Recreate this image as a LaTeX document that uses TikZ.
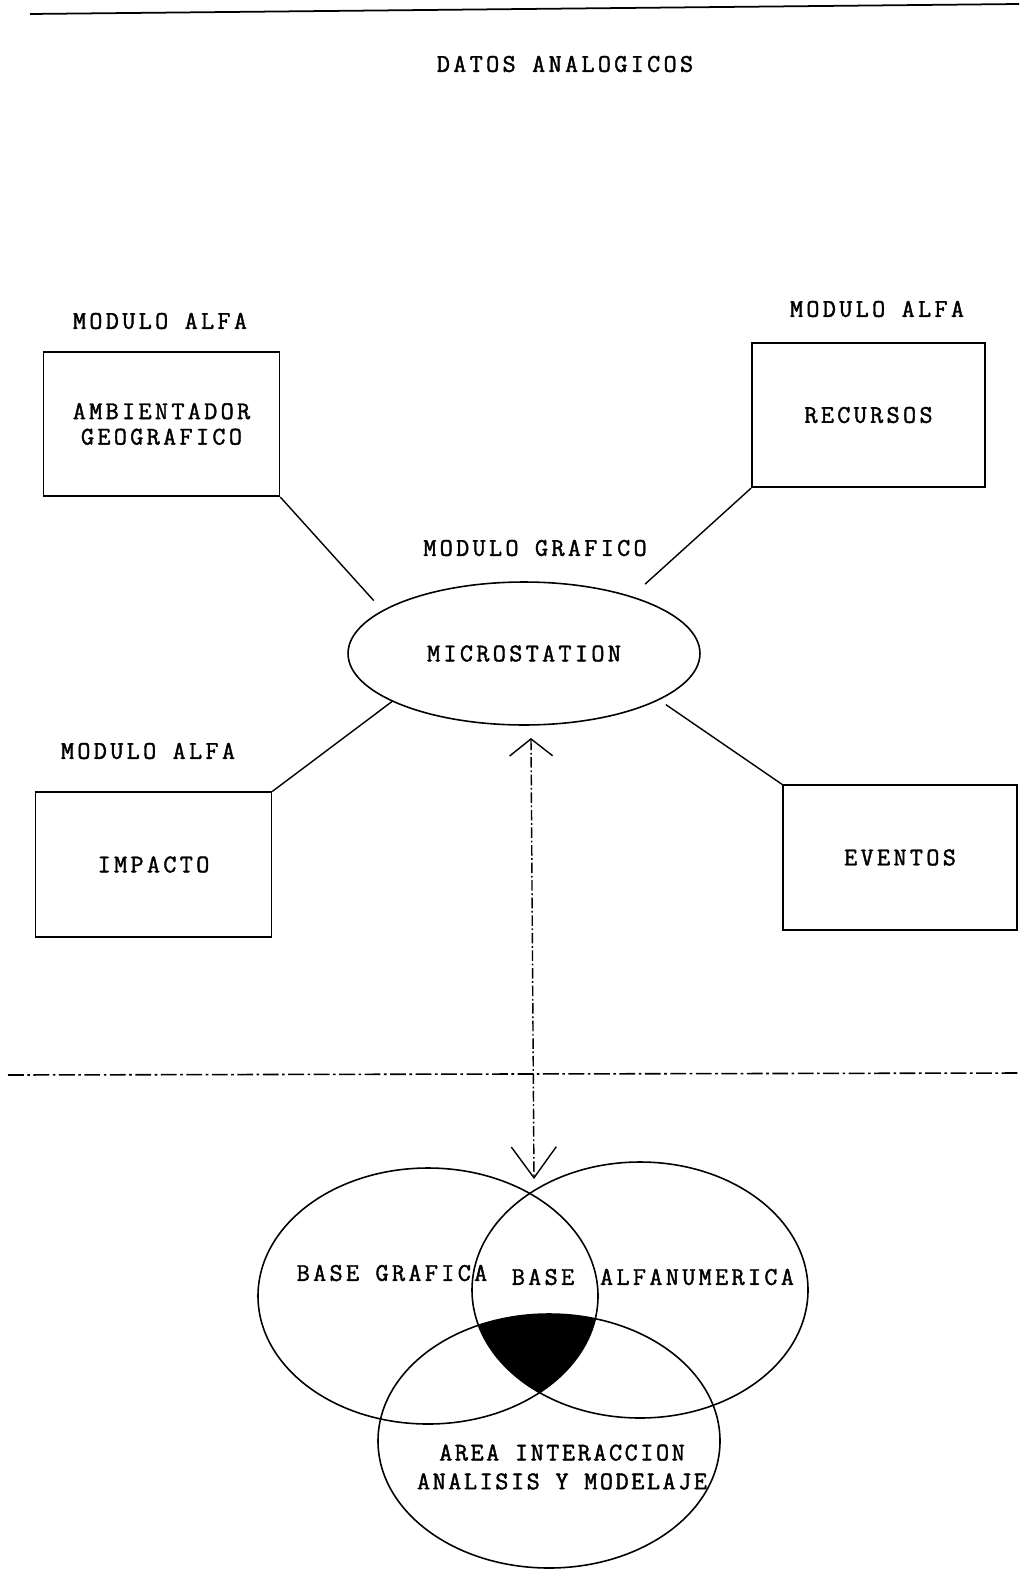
\documentclass[tikz,border=0pt]{standalone}
\usepackage{fontspec}
\newfontfamily\scanfont[LetterSpace=13,FakeBold=1.6]{Latin Modern Mono}
\newfontfamily\scannarrow[LetterSpace=10,FakeBold=1.6]{Latin Modern Mono}
\usetikzlibrary{shapes.geometric,arrows.meta}

\begin{document}
\begin{tikzpicture}[
    x=0.02cm, y=-0.02cm,
    every node/.style={font=\scanfont\fontsize{14.5}{14.5}\selectfont, inner sep=0pt},
    box/.style={
        rectangle, draw, line width=0.9pt,
        minimum width=4.72cm, minimum height=2.89cm, align=center
    },
    hubnode/.style={
        ellipse, draw, line width=0.9pt,
        minimum width=7.04cm, minimum height=2.86cm
    },
    lnk/.style={line width=0.8pt},
    sepline/.style={line width=0.9pt, dash pattern=on 9pt off 2pt on 1.5pt off 2pt},
    dataflow/.style={
        line width=0.8pt, dash pattern=on 6pt off 1.5pt on 1pt off 1.5pt,
        {Straight Barb[length=3.4mm,width=8.6mm]}-{Straight Barb[length=6.2mm,width=9mm]}
    },
    venn/.style={line width=0.9pt}
]
    \useasboundingbox (0,0) rectangle (1019,1571);

    \coordinate (tl) at (30,14);
    \coordinate (tr) at (1019,4);
    \draw[line width=1pt] (tl) -- (tr);
    \node (datos) at (565,64) {DATOS ANALOGICOS};

    \node (alfa1) at (160,321) {MODULO ALFA};
    \node[box] (amb) at (161.5,424) {AMBIENTADOR\\GEOGRAFICO};

    \node (alfa2) at (877,309) {MODULO ALFA};
    \node[box, minimum width=4.66cm] (rec) at (868.5,415) {RECURSOS};

    \node (grafico) at (535,548) {MODULO GRAFICO};
    \node[hubnode] (hub) at (524,653.5) {MICROSTATION};

    \node (alfa3) at (148,751) {MODULO ALFA};
    \node[box] (imp) at (153.5,864.5) {IMPACTO};

    \node[box, minimum width=4.68cm] (eve) at (900,857.5) {EVENTOS};

    \draw[lnk, shorten >=0.26cm] (amb.south east) -- (hub.163);
    \draw[lnk, shorten >=0.36cm] (rec.south west) -- (hub.28);
    \draw[lnk] (hub.200) -- (imp.north east);
    \draw[lnk, shorten <=0.16cm] (hub.341) -- (eve.north west);

    \coordinate (ml) at (8,1075);
    \coordinate (mr) at (1019,1073);
    \draw[sepline] (ml) -- (mr);

    \coordinate (up) at (531,738);
    \coordinate (down) at (534,1179);
    \draw[dataflow] (up) -- (down);

    \begin{scope}
        \clip (428,1296) ellipse [x radius=170, y radius=128];
        \clip (640,1290) ellipse [x radius=168, y radius=128];
        \fill (549,1441) ellipse [x radius=171, y radius=127];
    \end{scope}
    \draw[venn] (428,1296) ellipse [x radius=170, y radius=128];
    \draw[venn] (640,1290) ellipse [x radius=168, y radius=128];
    \draw[venn] (549,1441) ellipse [x radius=171, y radius=127];

    \node (grafica) at (392,1273) {BASE GRAFICA};
    \node (base) at (543,1277) {BASE};
    \node (alfanum) at (697,1277) {ALFANUMERICA};
    \node[align=center, font=\scannarrow\fontsize{14.5}{16.4}\selectfont] (area) at (562,1467) {AREA INTERACCION\\ANALISIS Y MODELAJE};
\end{tikzpicture}
\end{document}
